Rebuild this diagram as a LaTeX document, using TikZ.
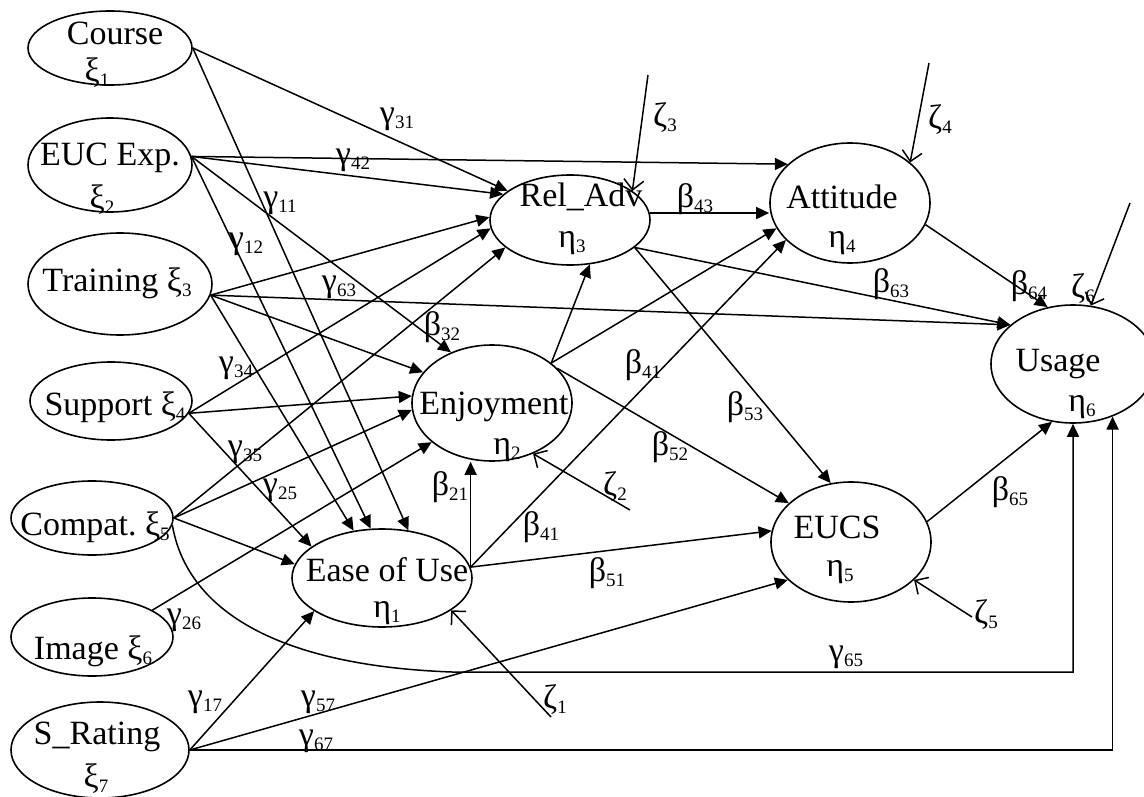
\documentclass[tikz,border=0pt]{standalone}
\usepackage{fontspec}
\setmainfont{Liberation Serif}
\usetikzlibrary{arrows.meta,shapes.geometric}
\newcommand\sbx[1]{\raisebox{-5pt}{\fontsize{19}{19}\selectfont #1}}
\begin{document}
\begin{tikzpicture}[x=1pt,y=-1pt,
  lat/.style={draw, ellipse, line width=1.6pt, inner sep=0pt},
  txt/.style={inner sep=0pt, font=\fontsize{34}{36}\selectfont},
  arr/.style={line width=1.5pt, -{Triangle[length=13pt,width=12pt]}},
  zarr/.style={line width=1.5pt, -{Straight Barb[length=10pt,width=20pt]}}]
\useasboundingbox (0,0) rectangle (1144,797);
\fill[white] (0,0) rectangle (1144,797);
% latent variable ellipses
\node[lat, minimum width=164pt, minimum height=74pt]  (course) at (110,48) {};
\node[lat, minimum width=164pt, minimum height=94pt]  (euc)    at (110,165) {};
\node[lat, minimum width=184pt, minimum height=102pt] (train)  at (120,284) {};
\node[lat, minimum width=162pt, minimum height=78pt]  (supp)   at (111,401) {};
\node[lat, minimum width=162pt, minimum height=74pt]  (compat) at (92,518) {};
\node[lat, minimum width=162pt, minimum height=78pt]  (image)  at (92,637) {};
\node[lat, minimum width=178pt, minimum height=96pt]  (srate)  at (100,750) {};
\node[lat, minimum width=160pt, minimum height=90pt]  (rel)    at (570,220) {};
\node[lat, minimum width=160pt, minimum height=120pt] (att)    at (850,203) {};
\node[lat, minimum width=164pt, minimum height=118pt] (usage)  at (1073,364) {};
\node[lat, minimum width=160pt, minimum height=116pt] (enj)    at (492,403) {};
\node[lat, minimum width=180pt, minimum height=98pt]  (ease)   at (382,578) {};
\node[lat, minimum width=160pt, minimum height=120pt] (eucs)   at (851,542) {};
% texts in ellipses
\node[txt] (courseT) at (115,33) {Course};
\node[txt] (courseX) at (97,73) {ξ\sbx{1}};
\node[txt] (eucT) at (110,158) {EUC Exp.};
\node[txt] (eucX) at (102,200) {ξ\sbx{2}};
\node[txt] (trainT) at (117,283) {Training ξ\sbx{3}};
\node[txt] (suppT) at (115,407) {Support ξ\sbx{4}};
\node[txt] (compatT) at (95,527) {Compat.\ ξ\sbx{5}};
\node[txt] (imageT) at (93,651) {Image ξ\sbx{6}};
\node[txt] (srateT) at (97,737) {S\_Rating};
\node[txt] (srateX) at (96,779) {ξ\sbx{7}};
\node[txt] (relT) at (581,197) {Rel\_Adv};
\node[txt] (relX) at (572,243) {η\sbx{3}};
\node[txt] (attT) at (842,197) {Attitude};
\node[txt] (attX) at (842,243) {η\sbx{4}};
\node[txt] (usageT) at (1058,364) {Usage};
\node[txt] (usageX) at (1082,407) {η\sbx{6}};
\node[txt] (enjT) at (494,407) {Enjoyment};
\node[txt] (enjX) at (507,450) {η\sbx{2}};
\node[txt] (easeT) at (387,570) {Ease of Use};
\node[txt] (easeX) at (387,613) {η\sbx{1}};
\node[txt] (eucsT) at (837,527) {EUCS};
\node[txt] (eucsX) at (840,572) {η\sbx{5}};
% exogenous paths
\draw[arr] (course.east) -- (rel.155);
\draw[arr] (course.east) -- (ease.61);
\draw[arr] (euc.6) -- (att.148);
\draw[arr] (euc.6) -- (rel.159);
\draw[arr] (euc.6) -- (enj.129);
\draw[arr] (euc.6) -- (ease.103);
\draw[arr] (train.-7) -- (rel.178);
\draw[arr] (train.-7) -- (enj.156);
\draw[arr] (train.-7) -- (ease.121);
\draw[arr] (train.-7) -- (usage.148);
\draw[arr] (supp.-9) -- (rel.186);
\draw[arr] (supp.-9) -- (enj.175);
\draw[arr] (supp.-9) -- (ease.156);
\draw[arr] (compat.east) -- (rel.203);
\draw[arr] (compat.east) -- (enj.185);
\draw[arr] (compat.east) -- (ease.171);
\coordinate (g65) at (452,672);
\draw[arr] (compat.-5) .. controls (185,600) and (260,665) .. (g65) -| (usage.south);
\draw[arr] (image.24) -- (enj.213);
\draw[arr] (srate.east) -- (ease.206);
\draw[arr] (srate.east) -- (eucs.211);
\draw[arr] (srate.east) -| (usage.-53);
% endogenous paths
\draw[arr] (ease.7) -- (ease.7 |- enj.south);
\draw[arr] (ease.7) -- (att.210);
\draw[arr] (ease.7) -- (eucs.172);
\draw[arr] (enj.34) -- (rel.-66);
\draw[arr] (enj.34) -- (att.199);
\draw[arr] (enj.28) -- (eucs.148);
\draw[arr] (rel.5) -- (rel.5 -| att.west);
\draw[arr] (rel.-23) -- (usage.148);
\draw[arr] (rel.-23) -- (eucs.109);
\draw[arr] (att.-16) -- (usage.114);
\draw[arr] (eucs.15) -- (usage.250);
% disturbances
\coordinate (z1) at (551,717); \draw[zarr] (z1) -- (ease.-25);
\coordinate (z2) at (630,510); \draw[zarr] (z2) -- (enj.-51);
\coordinate (z3) at (648,75);  \draw[zarr] (z3) -- (rel.25);
\coordinate (z4) at (929,63);  \draw[zarr] (z4) -- (att.34);
\coordinate (z5) at (972,617); \draw[zarr] (z5) -- (eucs.-31);
\coordinate (z6) at (1130,203); \draw[zarr] (z6) -- (usage.73);
% path labels
\node[txt] (lg31) at (397,119) {γ\sbx{31}};
\node[txt] (lg42) at (353,160) {γ\sbx{42}};
\node[txt] (lg11) at (280,203) {γ\sbx{11}};
\node[txt] (lg12) at (246,244) {γ\sbx{12}};
\node[txt] (lg63) at (339,287) {γ\sbx{63}};
\node[txt] (lg34) at (236,368) {γ\sbx{34}};
\node[txt] (lg35) at (245,452) {γ\sbx{35}};
\node[txt] (lg25) at (280,490) {γ\sbx{25}};
\node[txt] (lg26) at (184,620) {γ\sbx{26}};
\node[txt] (lg17) at (205,702) {γ\sbx{17}};
\node[txt] (lg57) at (318,702) {γ\sbx{57}};
\node[txt] (lg67) at (316,741) {γ\sbx{67}};
\node[txt] (lg65) at (846,657) {γ\sbx{65}};
\node[txt] (lb32) at (442,327) {β\sbx{32}};
\node[txt] (lb41a) at (643,365) {β\sbx{41}};
\node[txt] (lb41b) at (541,527) {β\sbx{41}};
\node[txt] (lb53) at (745,407) {β\sbx{53}};
\node[txt] (lb52) at (670,447) {β\sbx{52}};
\node[txt] (lb21) at (450,487) {β\sbx{21}};
\node[txt] (lb51) at (607,573) {β\sbx{51}};
\node[txt] (lb43) at (695,199) {β\sbx{43}};
\node[txt] (lb63) at (891,284) {β\sbx{63}};
\node[txt] (lb64) at (1029,286) {β\sbx{64}};
\node[txt] (lb65) at (1010,492) {β\sbx{65}};
\node[txt] (lz1) at (555,700) {ζ\sbx{1}};
\node[txt] (lz2) at (615,487) {ζ\sbx{2}};
\node[txt] (lz3) at (665,118) {ζ\sbx{3}};
\node[txt] (lz4) at (940,120) {ζ\sbx{4}};
\node[txt] (lz5) at (986,615) {ζ\sbx{5}};
\node[txt] (lz6) at (1083,289) {ζ\sbx{6}};
\end{tikzpicture}
\end{document}
